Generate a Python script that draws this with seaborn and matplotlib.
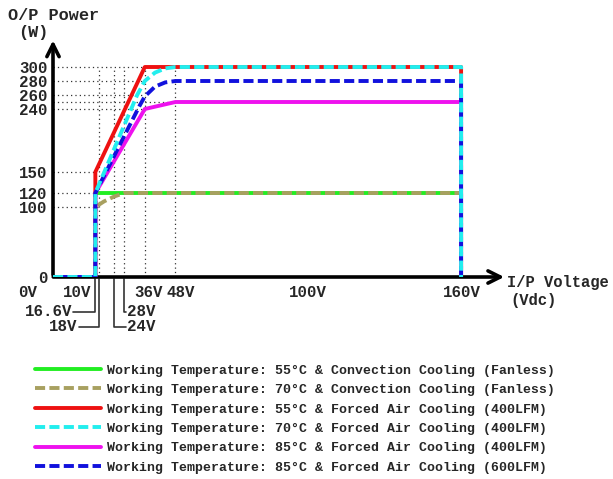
import pandas as pd
import matplotlib.pyplot as plt
import seaborn as sns

# curve data (input voltage V -> output power W)
names = ['55C conv', '70C conv', '55C 400', '70C 400', '85C 400', '85C 600']
labels = ['Working Temperature: 55°C & Convection Cooling (Fanless)',
          'Working Temperature: 70°C & Convection Cooling (Fanless)',
          'Working Temperature: 55°C & Forced Air Cooling (400LFM)',
          'Working Temperature: 70°C & Forced Air Cooling (400LFM)',
          'Working Temperature: 85°C & Forced Air Cooling (400LFM)',
          'Working Temperature: 85°C & Forced Air Cooling (600LFM)']
colors = ['#22ee22', '#a8a060', '#ee1111', '#22eeee', '#ee11ee', '#1111dd']
volts = [
    [0, 16.6, 16.6, 160, 160],
    [0, 16.6, 16.6, 20, 24, 28, 160, 160],
    [0, 16.6, 16.6, 36, 160, 160],
    [0, 16.6, 16.6, 33, 36, 40, 44, 48, 160, 160],
    [0, 16.6, 16.6, 36, 48, 160, 160],
    [0, 16.6, 16.6, 34, 36, 40, 44, 48, 160, 160],
]
watts = [
    [0, 0, 120, 120, 0],
    [0, 0, 100, 108, 115, 120, 120, 0],
    [0, 0, 150, 300, 300, 0],
    [0, 0, 120, 260, 280, 292, 298, 300, 300, 0],
    [0, 0, 120, 240, 250, 250, 0],
    [0, 0, 120, 245, 258, 272, 278, 280, 280, 0],
]
y_ticks = [0, 100, 120, 150, 240, 260, 280, 300]
x_ticks = [10, 16.6, 18, 24, 28, 36, 48, 100]

rows = []
for n, vs, ws in zip(names, volts, watts):
    for v, w in zip(vs, ws):
        rows.append({'curve': n, 'V': v, 'W': w})
df = pd.DataFrame(rows)

sns.set_theme(style='white')
plt.rcParams['font.family'] = ['Liberation Mono', 'DejaVu Sans Mono']
plt.rcParams['font.weight'] = 'bold'

fig = plt.figure(figsize=(6.13, 4.79), dpi=100)
ax = fig.add_axes([53/613, 1 - 277/479, 454/613, 238/479])

dash = (2.6, 1.1)
sns.lineplot(data=df, x='V', y='W', hue='curve', style='curve', hue_order=names,
             style_order=names, palette=dict(zip(names, colors)),
             dashes={names[0]: '', names[1]: dash, names[2]: '', names[3]: dash,
                     names[4]: '', names[5]: dash},
             sort=False, estimator=None, lw=2.8, ax=ax)
curves = list(ax.lines[:6])
for i, ln in enumerate(curves):
    ln.set_zorder(3 + i)
curves[4].set_zorder(6)
curves[3].set_zorder(10)
# shift blue dash phase so it shows in the cyan gaps
curves[5].set_linestyle((1.8, dash))
handles, _ = ax.get_legend_handles_labels()
ax.legend(handles, labels, loc='upper left', bbox_to_anchor=(30/613, 1 - 359/479),
          bbox_transform=fig.transFigure, frameon=False, handlelength=5.0,
          handletextpad=0.4, labelspacing=0.55, fontsize=9.5, borderaxespad=0)
ax.set_xlabel('')
ax.set_ylabel('')

# dotted guide lines
dot = dict(color='#333333', lw=0.9, ls=(0, (1, 2.5)), zorder=1)
for y, xe in [(300, 36), (280, 36), (260, 36), (250, 48), (240, 36), (150, 16.6),
              (120, 16.6), (100, 18)]:
    ax.plot([0, xe], [y, y], **dot)
for x in [18, 24, 28, 36, 48]:
    ax.plot([x, x], [0, 300], **dot)

ax.set_xlim(0, 178)
ax.set_ylim(0, 340)
for s in ax.spines.values():
    s.set_visible(False)
ax.set_yticks(y_ticks)
ax.set_yticklabels([str(t) for t in y_ticks], fontsize=11.3)
ax.set_xticks(x_ticks)
ax.set_xticklabels([''] * len(x_ticks))
ax.tick_params(axis='both', direction='in', length=6, width=2.5, color='black', pad=4)

# axes with arrows
arrow = dict(arrowstyle='->', lw=2.6, color='black', mutation_scale=22)
ax.annotate('', xy=(178, 0), xytext=(-1, 0), arrowprops=arrow, annotation_clip=False)
ax.annotate('', xy=(0, 342), xytext=(0, -1), arrowprops=arrow, annotation_clip=False)

fs = 11.3
for x, t in [(-10, '0V'), (9.5, '10V'), (37.5, '36V'), (50, '48V'), (100, '100V'), (160.5, '160V')]:
    ax.text(x, -22, t, ha='center', va='center', fontsize=fs)
# labels with leader lines
ax.text(7.5, -50, '16.6V', ha='right', va='center', fontsize=fs)
ax.text(9.5, -71, '18V', ha='right', va='center', fontsize=fs)
ax.text(29, -50, '28V', ha='left', va='center', fontsize=fs)
ax.text(29, -71, '24V', ha='left', va='center', fontsize=fs)
lead = dict(color='#333333', lw=1.2, clip_on=False)
ax.plot([8, 16.6, 16.6], [-50, -50, -3], **lead)
ax.plot([10, 18, 18], [-71, -71, -3], **lead)
ax.plot([28.5, 28, 28], [-50, -50, -3], **lead)
ax.plot([28.5, 24, 24], [-71, -71, -3], **lead)

fig.text(8/613, 1 - 16/479, 'O/P Power', ha='left', va='center', fontsize=12.2)
fig.text(18/613, 1 - 33/479, '(W)', ha='left', va='center', fontsize=12.2)
fig.text(507/613, 1 - 283/479, 'I/P Voltage', ha='left', va='center', fontsize=11.2)
fig.text(510/613, 1 - 301/479, '(Vdc)', ha='left', va='center', fontsize=11.2)

fig.savefig('out.png', dpi=100)
